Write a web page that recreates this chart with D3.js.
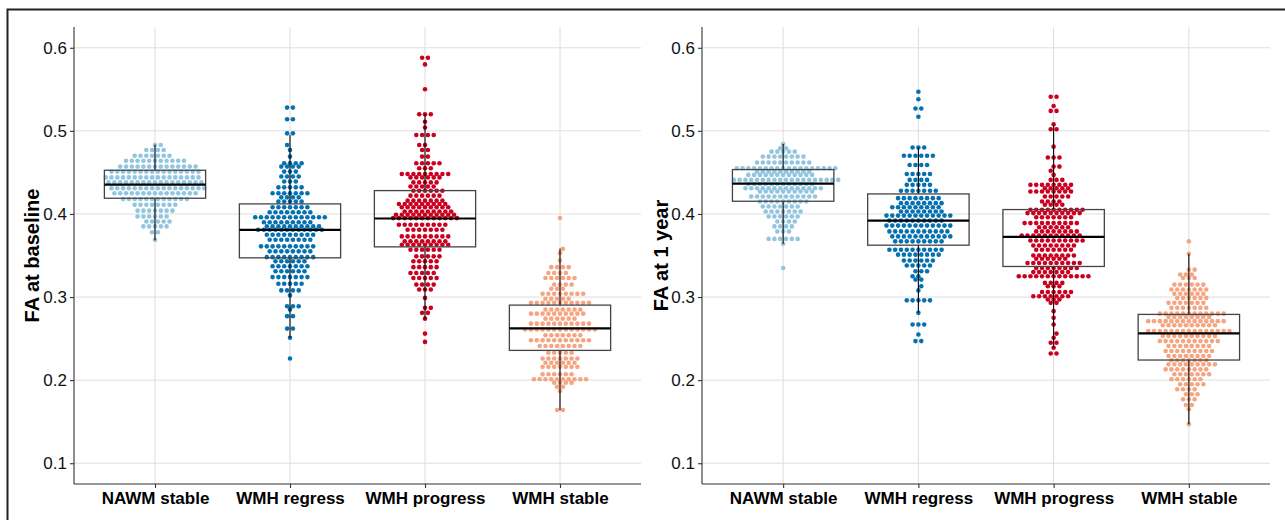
<!DOCTYPE html>
<html>
<head>
<meta charset="utf-8">
<script src="https://cdn.jsdelivr.net/npm/d3@7"></script>
<style>
	body { margin: 0; background: #fff; }
	svg { display: block; font-family: "Liberation Sans", Arial, sans-serif; }
</style>
</head>
<body>
<div id="chartDiv"></div>
<script>
var categories = ["NAWM stable", "WMH regress", "WMH progress", "WMH stable"];
var groupColors = ["#92c5de", "#0571b0", "#ca0020", "#f4a582"];
var yTicks = [0.1, 0.2, 0.3, 0.4, 0.5, 0.6];

// [FA value, number of dots] read row by row off the swarms
var baseNAWM = [[0.483,2],[0.477,4],[0.470,7],[0.464,11],[0.457,14],[0.451,16],[0.444,17],[0.438,17],[0.431,17],[0.425,15],[0.418,12],[0.411,8],[0.404,7],[0.397,6],[0.391,5],[0.385,5],[0.378,2],[0.369,1]];
var baseRegress = [[0.528,2],[0.514,2],[0.497,2],[0.483,1],[0.477,1],[0.469,1],[0.461,4],[0.457,4],[0.451,3],[0.445,4],[0.439,3],[0.432,5],[0.425,7],[0.420,4],[0.415,5],[0.408,7],[0.402,8],[0.396,13],[0.390,9],[0.385,10],[0.381,12],[0.375,9],[0.369,8],[0.361,10],[0.355,8],[0.348,9],[0.343,6],[0.337,7],[0.331,6],[0.324,7],[0.316,5],[0.308,4],[0.302,1],[0.289,3],[0.285,1],[0.277,2],[0.262,2],[0.251,1],[0.226,1]];
var baseProgress = [[0.588,2],[0.580,1],[0.550,1],[0.520,3],[0.511,1],[0.504,1],[0.495,4],[0.483,2],[0.477,2],[0.469,2],[0.461,5],[0.455,3],[0.448,9],[0.444,6],[0.438,5],[0.433,5],[0.428,6],[0.422,6],[0.416,7],[0.412,9],[0.408,9],[0.403,9],[0.399,11],[0.395,12],[0.387,9],[0.381,7],[0.373,9],[0.367,8],[0.363,9],[0.357,6],[0.349,5],[0.343,5],[0.336,5],[0.329,5],[0.323,5],[0.315,4],[0.309,3],[0.299,1],[0.287,2],[0.281,2],[0.274,1],[0.256,1],[0.246,1]];
var baseStable = [[0.395,1],[0.358,1],[0.353,1],[0.344,1],[0.336,4],[0.329,4],[0.323,6],[0.315,4],[0.310,3],[0.304,8],[0.298,5],[0.293,11],[0.285,7],[0.280,10],[0.274,6],[0.268,11],[0.261,13],[0.254,7],[0.248,11],[0.241,8],[0.233,5],[0.226,7],[0.221,6],[0.216,7],[0.207,6],[0.201,10],[0.197,4],[0.192,2],[0.187,1],[0.164,2]];

var yearNAWM = [[0.484,1],[0.479,2],[0.475,5],[0.469,8],[0.462,10],[0.455,18],[0.451,10],[0.447,12],[0.441,19],[0.436,12],[0.431,14],[0.427,10],[0.421,12],[0.415,9],[0.409,7],[0.403,7],[0.397,6],[0.391,4],[0.385,4],[0.379,3],[0.370,6],[0.364,1],[0.335,1]];
var yearRegress = [[0.547,1],[0.538,1],[0.527,2],[0.517,1],[0.480,3],[0.470,6],[0.459,4],[0.448,5],[0.441,4],[0.435,5],[0.428,7],[0.419,8],[0.413,8],[0.408,9],[0.403,8],[0.398,12],[0.392,10],[0.386,12],[0.379,11],[0.373,11],[0.367,9],[0.357,10],[0.351,8],[0.344,6],[0.338,5],[0.331,3],[0.325,2],[0.321,2],[0.313,1],[0.308,1],[0.296,5],[0.281,1],[0.267,3],[0.255,1],[0.247,2]];
var yearProgress = [[0.541,2],[0.530,1],[0.524,2],[0.508,1],[0.502,2],[0.481,1],[0.468,3],[0.457,2],[0.452,1],[0.447,1],[0.441,3],[0.435,8],[0.431,5],[0.427,8],[0.421,5],[0.415,4],[0.411,4],[0.405,10],[0.401,10],[0.396,7],[0.389,10],[0.384,6],[0.379,8],[0.374,11],[0.368,10],[0.362,8],[0.357,7],[0.350,8],[0.346,6],[0.341,10],[0.335,8],[0.330,7],[0.325,13],[0.317,4],[0.313,3],[0.306,6],[0.301,7],[0.297,3],[0.293,2],[0.283,1],[0.275,1],[0.267,1],[0.256,1],[0.251,1],[0.245,2],[0.239,1],[0.232,2]];
var yearStable = [[0.367,1],[0.352,1],[0.333,2],[0.327,3],[0.323,3],[0.315,6],[0.309,7],[0.304,6],[0.299,6],[0.293,7],[0.287,7],[0.280,12],[0.276,8],[0.271,14],[0.266,10],[0.259,15],[0.253,10],[0.247,11],[0.241,8],[0.235,9],[0.229,8],[0.224,7],[0.219,9],[0.213,8],[0.207,7],[0.201,6],[0.195,5],[0.189,4],[0.183,3],[0.177,3],[0.170,2],[0.165,1],[0.147,1]];

// boxplot stats per group: [lower whisker, q1, median, q3, upper whisker]
var baseBoxes = [[0.3684,0.4189,0.4353,0.4526,0.4834],[0.251,0.3472,0.3809,0.4121,0.4954],[0.2731,0.3604,0.3945,0.4281,0.5203],[0.1637,0.2358,0.2623,0.2903,0.3584]];
var yearBoxes = [[0.364,0.4153,0.4365,0.4534,0.4842],[0.281,0.3624,0.392,0.4241,0.480],[0.2391,0.3368,0.3725,0.4053,0.5075],[0.147,0.2242,0.2563,0.2791,0.352]];

;(function() {

	var width = 1285;
	var height = 520;
	var top = 27;
	var bottom = 484;
	var dotRadius = 2.3;
	var dotGap = 5.8;

	var panels = [
		{ left: 74, right: 641, title: "FA at baseline", titleX: 39, groups: [baseNAWM, baseRegress, baseProgress, baseStable], boxes: baseBoxes },
		{ left: 702, right: 1270, title: "FA at 1 year", titleX: 668, groups: [yearNAWM, yearRegress, yearProgress, yearStable], boxes: yearBoxes }
	];

	var chart = d3.select("#chartDiv").append("svg")
		.attr("width", width)
		.attr("height", height);

	chart.append("rect")
		.attr("x", 7.5)
		.attr("y", 9.5)
		.attr("width", width + 20)
		.attr("height", height + 20)
		.style("fill", "none")
		.style("stroke", "#222")
		.style("stroke-width", 2);

	var yScale = d3.scaleLinear()
		.domain([0.075, 0.625])
		.range([bottom, top]);

	panels.forEach(drawPanel);

	function drawPanel(p) {
		var xScale = d3.scalePoint()
			.domain(categories)
			.range([p.left, p.right])
			.padding(0.6);
		var step = xScale.step();

		var g = chart.append("g");

		// grid
		g.selectAll(".hgrid").data(yTicks).enter().append("line")
			.attr("x1", p.left).attr("x2", p.right)
			.attr("y1", function(d) { return yScale(d); })
			.attr("y2", function(d) { return yScale(d); })
			.style("stroke", "#dedede").style("stroke-width", 1);
		g.selectAll(".vgrid").data(categories).enter().append("line")
			.attr("x1", function(d) { return xScale(d); })
			.attr("x2", function(d) { return xScale(d); })
			.attr("y1", top).attr("y2", bottom)
			.style("stroke", "#dedede").style("stroke-width", 1);

		// dots, one centred row per value
		p.groups.forEach(function(rows, i) {
			var cx = xScale(categories[i]);
			var pts = rowLayout(rows);
			g.append("g").selectAll("circle").data(pts).enter().append("circle")
				.attr("cx", function(d) { return cx + d.x; })
				.attr("cy", function(d) { return d.y; })
				.attr("r", dotRadius)
				.style("fill", groupColors[i]);
		});

		// boxes
		p.boxes.forEach(function(b, i) {
			var cx = xScale(categories[i]);
			var bw = step * 0.75;
			g.append("line")
				.attr("x1", cx).attr("x2", cx)
				.attr("y1", yScale(b[0])).attr("y2", yScale(b[1]))
				.style("stroke", "#000").style("stroke-width", 1.1);
			g.append("line")
				.attr("x1", cx).attr("x2", cx)
				.attr("y1", yScale(b[3])).attr("y2", yScale(b[4]))
				.style("stroke", "#000").style("stroke-width", 1.1);
			g.append("rect")
				.attr("x", cx - bw / 2)
				.attr("y", yScale(b[3]))
				.attr("width", bw)
				.attr("height", yScale(b[1]) - yScale(b[3]))
				.style("fill", "none")
				.style("stroke", "#444")
				.style("stroke-width", 1.3);
			g.append("line")
				.attr("x1", cx - bw / 2).attr("x2", cx + bw / 2)
				.attr("y1", yScale(b[2])).attr("y2", yScale(b[2]))
				.style("stroke", "#000").style("stroke-width", 2.2);
		});

		// axes
		var yAxis = d3.axisLeft(yScale).tickValues(yTicks).tickSize(4).tickPadding(3)
			.tickFormat(d3.format(".1f"));
		var yAxisG = g.append("g")
			.attr("transform", "translate(" + p.left + ",0)")
			.call(yAxis);
		yAxisG.select(".domain").attr("d", "M0," + top + "V" + bottom);

		var xAxis = d3.axisBottom(xScale).tickSize(4).tickPadding(4);
		var xAxisG = g.append("g")
			.attr("transform", "translate(0," + bottom + ")")
			.call(xAxis);
		xAxisG.select(".domain").attr("d", "M" + p.left + ",0H" + p.right);

		chart.selectAll(".domain").style("stroke", "#333").style("stroke-width", 1.1);
		chart.selectAll(".tick line").style("stroke", "#333").style("stroke-width", 1.1);
		yAxisG.selectAll("text").style("font-size", "17px").style("fill", "#111")
			.style("font-family", "'Liberation Sans', Arial, sans-serif");
		xAxisG.selectAll("text").style("font-size", "17px").style("font-weight", "bold").style("fill", "#000")
			.style("font-family", "'Liberation Sans', Arial, sans-serif");

		g.append("text")
			.attr("text-anchor", "middle")
			.attr("transform", "translate(" + p.titleX + "," + ((top + bottom) / 2) + ") rotate(-90)")
			.style("font-size", "20px")
			.style("font-weight", "bold")
			.text(p.title);
	}

	// centred rows of dots; a row that crowds the one below is staggered by half a gap
	function rowLayout(rows) {
		var sorted = rows.slice().sort(function(a, b) { return a[0] - b[0]; });
		var pts = [];
		var prev = null;
		var flip = 1;
		sorted.forEach(function(r) {
			var y = yScale(r[0]);
			var n = r[1];
			var shift = 0;
			var phase = (n % 2 === 0) ? dotGap / 2 : 0;
			if (prev && Math.abs(prev.y - y) < dotGap) {
				var diff = Math.abs(phase - prev.phase) % dotGap;
				if (diff < 0.01 || dotGap - diff < 0.01) {
					shift = flip * dotGap / 2;
					flip = -flip;
					phase = (phase + dotGap / 2) % dotGap;
				}
			}
			for (var k = 0; k < n; k++) {
				pts.push({ x: shift + (k - (n - 1) / 2) * dotGap, y: y });
			}
			prev = { y: y, phase: phase };
		});
		return pts;
	}

})();
</script>
</body>
</html>
